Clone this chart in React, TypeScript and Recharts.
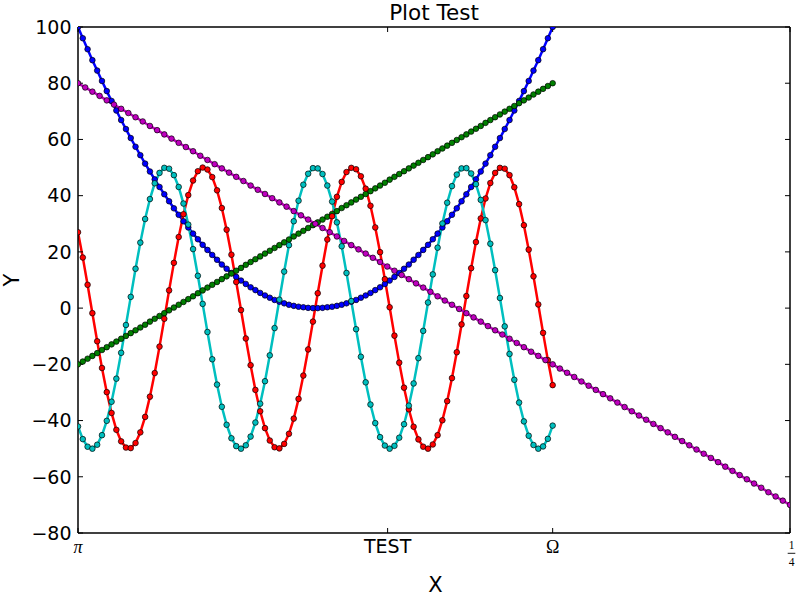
import React from 'react';
import { LineChart, Line, XAxis, YAxis } from 'recharts';

// Parabola (blue), 100 samples over the first two thirds of the x range
const blueY = [
  100.0, 96.0, 92.1, 88.2, 84.5, 80.8, 77.2, 73.7, 70.3, 66.9,
  63.7, 60.5, 57.4, 54.4, 51.4, 48.6, 45.8, 43.1, 40.5, 38.0,
  35.5, 33.2, 30.9, 28.7, 26.5, 24.5, 22.5, 20.7, 18.9, 17.2,
  15.5, 14.0, 12.5, 11.1, 9.8, 8.6, 7.4, 6.4, 5.4, 4.5,
  3.7, 2.9, 2.3, 1.7, 1.2, 0.8, 0.5, 0.3, 0.1, 0.0,
  0.0, 0.1, 0.3, 0.5, 0.8, 1.2, 1.7, 2.3, 2.9, 3.7,
  4.5, 5.4, 6.4, 7.4, 8.6, 9.8, 11.1, 12.5, 14.0, 15.5,
  17.2, 18.9, 20.7, 22.5, 24.5, 26.5, 28.7, 30.9, 33.2, 35.5,
  38.0, 40.5, 43.1, 45.8, 48.6, 51.4, 54.4, 57.4, 60.5, 63.7,
  66.9, 70.3, 73.7, 77.2, 80.8, 84.5, 88.2, 92.1, 96.0, 100.0,
];

const greenY = [
  -20.0, -19.0, -18.0, -17.0, -16.0, -14.9, -13.9, -12.9, -11.9, -10.9,
  -9.9, -8.9, -7.9, -6.9, -5.9, -4.8, -3.8, -2.8, -1.8, -0.8,
  0.2, 1.2, 2.2, 3.2, 4.2, 5.3, 6.3, 7.3, 8.3, 9.3,
  10.3, 11.3, 12.3, 13.3, 14.3, 15.4, 16.4, 17.4, 18.4, 19.4,
  20.4, 21.4, 22.4, 23.4, 24.4, 25.5, 26.5, 27.5, 28.5, 29.5,
  30.5, 31.5, 32.5, 33.5, 34.5, 35.6, 36.6, 37.6, 38.6, 39.6,
  40.6, 41.6, 42.6, 43.6, 44.6, 45.7, 46.7, 47.7, 48.7, 49.7,
  50.7, 51.7, 52.7, 53.7, 54.7, 55.8, 56.8, 57.8, 58.8, 59.8,
  60.8, 61.8, 62.8, 63.8, 64.8, 65.9, 66.9, 67.9, 68.9, 69.9,
  70.9, 71.9, 72.9, 73.9, 74.9, 76.0, 77.0, 78.0, 79.0, 80.0,
];

const redY = [
  27.0, 18.0, 8.3, -1.8, -11.8, -21.3, -29.9, -37.3, -43.3, -47.4,
  -49.6, -49.8, -48.0, -44.2, -38.7, -31.5, -23.1, -13.7, -3.8, 6.3,
  16.1, 25.3, 33.4, 40.2, 45.4, 48.7, 50.0, 49.3, 46.6, 41.9,
  35.6, 27.9, 19.0, 9.3, -0.7, -10.8, -20.3, -29.1, -36.7, -42.7,
  -47.1, -49.5, -49.9, -48.3, -44.7, -39.3, -32.3, -24.0, -14.7, -4.8,
  5.3, 15.1, 24.4, 32.7, 39.6, 44.9, 48.4, 49.9, 49.4, 46.9,
  42.5, 36.4, 28.7, 19.9, 10.3, 0.3, -9.8, -19.4, -28.3, -36.0,
  -42.2, -46.7, -49.3, -50.0, -48.5, -45.2, -39.9, -33.1, -24.9, -15.7,
  -5.8, 4.3, 14.2, 23.5, 31.9, 39.0, 44.5, 48.1, 49.9, 49.6,
  47.3, 43.0, 37.0, 29.5, 20.8, 11.3, 1.3, -8.8, -18.5, -27.4,
];

const cyanY = [
  -42.1, -46.6, -49.3, -50.0, -48.6, -45.2, -40.1, -33.3, -25.1, -15.9,
  -6.0, 4.0, 14.0, 23.3, 31.7, 38.8, 44.4, 48.1, 49.9, 49.6,
  47.3, 43.1, 37.2, 29.7, 21.0, 11.5, 1.5, -8.5, -18.2, -27.2,
  -35.1, -41.5, -46.3, -49.1, -50.0, -48.8, -45.7, -40.7, -34.0, -26.0,
  -16.8, -7.1, 3.0, 13.0, 22.4, 30.9, 38.2, 43.9, 47.8, 49.8,
  49.7, 47.7, 43.6, 37.9, 30.5, 22.0, 12.5, 2.5, -7.5, -17.3,
  -26.4, -34.3, -40.9, -45.9, -48.9, -50.0, -49.0, -46.1, -41.3, -34.7,
  -26.8, -17.8, -8.1, 2.0, 12.0, 21.5, 30.1, 37.5, 43.4, 47.5,
  49.7, 49.8, 47.9, 44.1, 38.5, 31.3, 22.9, 13.5, 3.6, -6.5,
  -16.3, -25.5, -33.6, -40.3, -45.4, -48.7, -50.0, -49.2, -46.5, -41.8,
];

// Magenta line, 100 samples over the full x range
const magentaY = [
  80.0, 78.5, 77.0, 75.5, 73.9, 72.4, 70.9, 69.4, 67.9, 66.4,
  64.8, 63.3, 61.8, 60.3, 58.8, 57.3, 55.8, 54.2, 52.7, 51.2,
  49.7, 48.2, 46.7, 45.2, 43.6, 42.1, 40.6, 39.1, 37.6, 36.1,
  34.5, 33.0, 31.5, 30.0, 28.5, 27.0, 25.5, 23.9, 22.4, 20.9,
  19.4, 17.9, 16.4, 14.8, 13.3, 11.8, 10.3, 8.8, 7.3, 5.8,
  4.2, 2.7, 1.2, -0.3, -1.8, -3.3, -4.8, -6.4, -7.9, -9.4,
  -10.9, -12.4, -13.9, -15.5, -17.0, -18.5, -20.0, -21.5, -23.0, -24.5,
  -26.1, -27.6, -29.1, -30.6, -32.1, -33.6, -35.2, -36.7, -38.2, -39.7,
  -41.2, -42.7, -44.2, -45.8, -47.3, -48.8, -50.3, -51.8, -53.3, -54.8,
  -56.4, -57.9, -59.4, -60.9, -62.4, -63.9, -65.5, -67.0, -68.5, -70.0,
];

const yTicks = [-80, -60, -40, -20, 0, 20, 40, 60, 80, 100];
// tick positions in magenta-sample units (full x range = 0..99)
const xTickValues = [0, 43.05, 66, 99];
const xTickLabels = ['π', 'TEST', 'Ω', '1/4'];
// the same tick positions expressed in main-sample units (full x range = 0..148.5)
const xTickValuesMain = [0, 64.575, 99, 148.5];

const mainData = blueY.map((b, i) => ({ i, blue: b, green: greenY[i], red: redY[i], cyan: cyanY[i] }));
const magentaData = magentaY.map((m, j) => ({ j, magenta: m }));

const SANS = 'DejaVu Sans';
const SERIF = 'Liberation Serif';

function XTick(props: any) {
  const { x, y, payload } = props;
  const idx = xTickValues.findIndex((v) => Math.abs(v - payload.value) < 1e-6);
  const label = xTickLabels[idx];
  if (label === '1/4') {
    return (
      <g>
        <text x={x + 1.5} y={y + 16.3} textAnchor="middle" fontFamily={SERIF} fontSize={11.5} fill="#000">1</text>
        <line x1={x - 2.3} x2={x + 5.3} y1={y + 20.3} y2={y + 20.3} stroke="#000" strokeWidth={0.9} />
        <text x={x + 1.5} y={y + 33} textAnchor="middle" fontFamily={SERIF} fontSize={11.5} fill="#000">4</text>
      </g>
    );
  }
  if (label === 'π') {
    return <text x={x} y={y + 20} textAnchor="middle" fontFamily={SERIF} fontStyle="italic" fontSize={18} fill="#000">π</text>;
  }
  if (label === 'Ω') {
    return <text x={x} y={y + 20} textAnchor="middle" fontFamily={SERIF} fontSize={18} fill="#000">Ω</text>;
  }
  return <text x={x} y={y + 20} textAnchor="middle" fontFamily={SANS} fontSize={19} fill="#000">{label}</text>;
}

const NoTick = () => <g />;

const axisLine = { stroke: '#000', strokeWidth: 1.5 };
const tickLine = { stroke: '#000', strokeWidth: 1 };

const dotStyle = (c: string) => ({ r: 2.8, fill: c, stroke: '#000', strokeWidth: 0.7 });

export default function App() {
  return (
    <div style={{ position: 'absolute', left: 0, top: 0, width: 800, height: 600, background: '#fff' }}>
      <LineChart width={800} height={600} margin={{ top: 0, right: 0, bottom: 0, left: 0 }}>
        <XAxis
          xAxisId="bottom"
          orientation="bottom"
          dataKey="j"
          type="number"
          domain={[0, 99]}
          allowDataOverflow
          ticks={xTickValues}
          interval={0}
          height={67}
          tickSize={-5}
          tickMargin={5}
          axisLine={axisLine}
          tickLine={tickLine}
          tick={XTick}
        />
        <XAxis
          xAxisId="top"
          orientation="top"
          dataKey="i"
          type="number"
          domain={[0, 148.5]}
          allowDataOverflow
          ticks={xTickValuesMain}
          interval={0}
          height={27}
          tickSize={-5}
          axisLine={axisLine}
          tickLine={tickLine}
          tick={NoTick}
        />
        <YAxis
          yAxisId="left"
          type="number"
          domain={[-80, 100]}
          allowDataOverflow
          ticks={yTicks}
          interval={0}
          width={78}
          tickSize={-5}
          tickMargin={11.5}
          axisLine={axisLine}
          tickLine={tickLine}
          tick={{ fontSize: 19, fontFamily: SANS, fill: '#000' }}
          tickFormatter={(v: number) => String(v).replace('-', '\u2212')}
        />
        <YAxis
          yAxisId="right"
          orientation="right"
          type="number"
          domain={[-80, 100]}
          allowDataOverflow
          ticks={yTicks}
          interval={0}
          width={10}
          tickSize={-5}
          axisLine={axisLine}
          tickLine={tickLine}
          tick={NoTick}
        />
        <Line data={mainData} xAxisId="top" yAxisId="right" dataKey="blue" type="linear" stroke="#0000ff" strokeWidth={2.5}
          dot={dotStyle('#0000ff')} activeDot={false} isAnimationActive={false} />
        <Line data={mainData} xAxisId="top" yAxisId="right" dataKey="green" type="linear" stroke="#008000" strokeWidth={2.5}
          dot={dotStyle('#008000')} activeDot={false} isAnimationActive={false} />
        <Line data={mainData} xAxisId="top" yAxisId="right" dataKey="red" type="linear" stroke="#ff0000" strokeWidth={2.5}
          dot={dotStyle('#ff0000')} activeDot={false} isAnimationActive={false} />
        <Line data={mainData} xAxisId="top" yAxisId="right" dataKey="cyan" type="linear" stroke="#00bfbf" strokeWidth={2.5}
          dot={dotStyle('#00bfbf')} activeDot={false} isAnimationActive={false} />
        <Line data={magentaData} xAxisId="bottom" yAxisId="left" dataKey="magenta" type="linear" stroke="#bf00bf" strokeWidth={2.5}
          dot={dotStyle('#bf00bf')} activeDot={false} isAnimationActive={false} />
      </LineChart>
      <svg width={800} height={600} style={{ position: 'absolute', left: 0, top: 0, pointerEvents: 'none' }}>
        <text x={434} y={20} textAnchor="middle" fontFamily={SANS} fontSize={21.5} fill="#000">Plot Test</text>
        <text x={435.5} y={592} textAnchor="middle" fontFamily={SANS} fontSize={21} fill="#000">X</text>
        <text transform="translate(19,280) rotate(-90)" textAnchor="middle" fontFamily={SANS} fontSize={21} fill="#000">Y</text>
      </svg>
    </div>
  );
}
